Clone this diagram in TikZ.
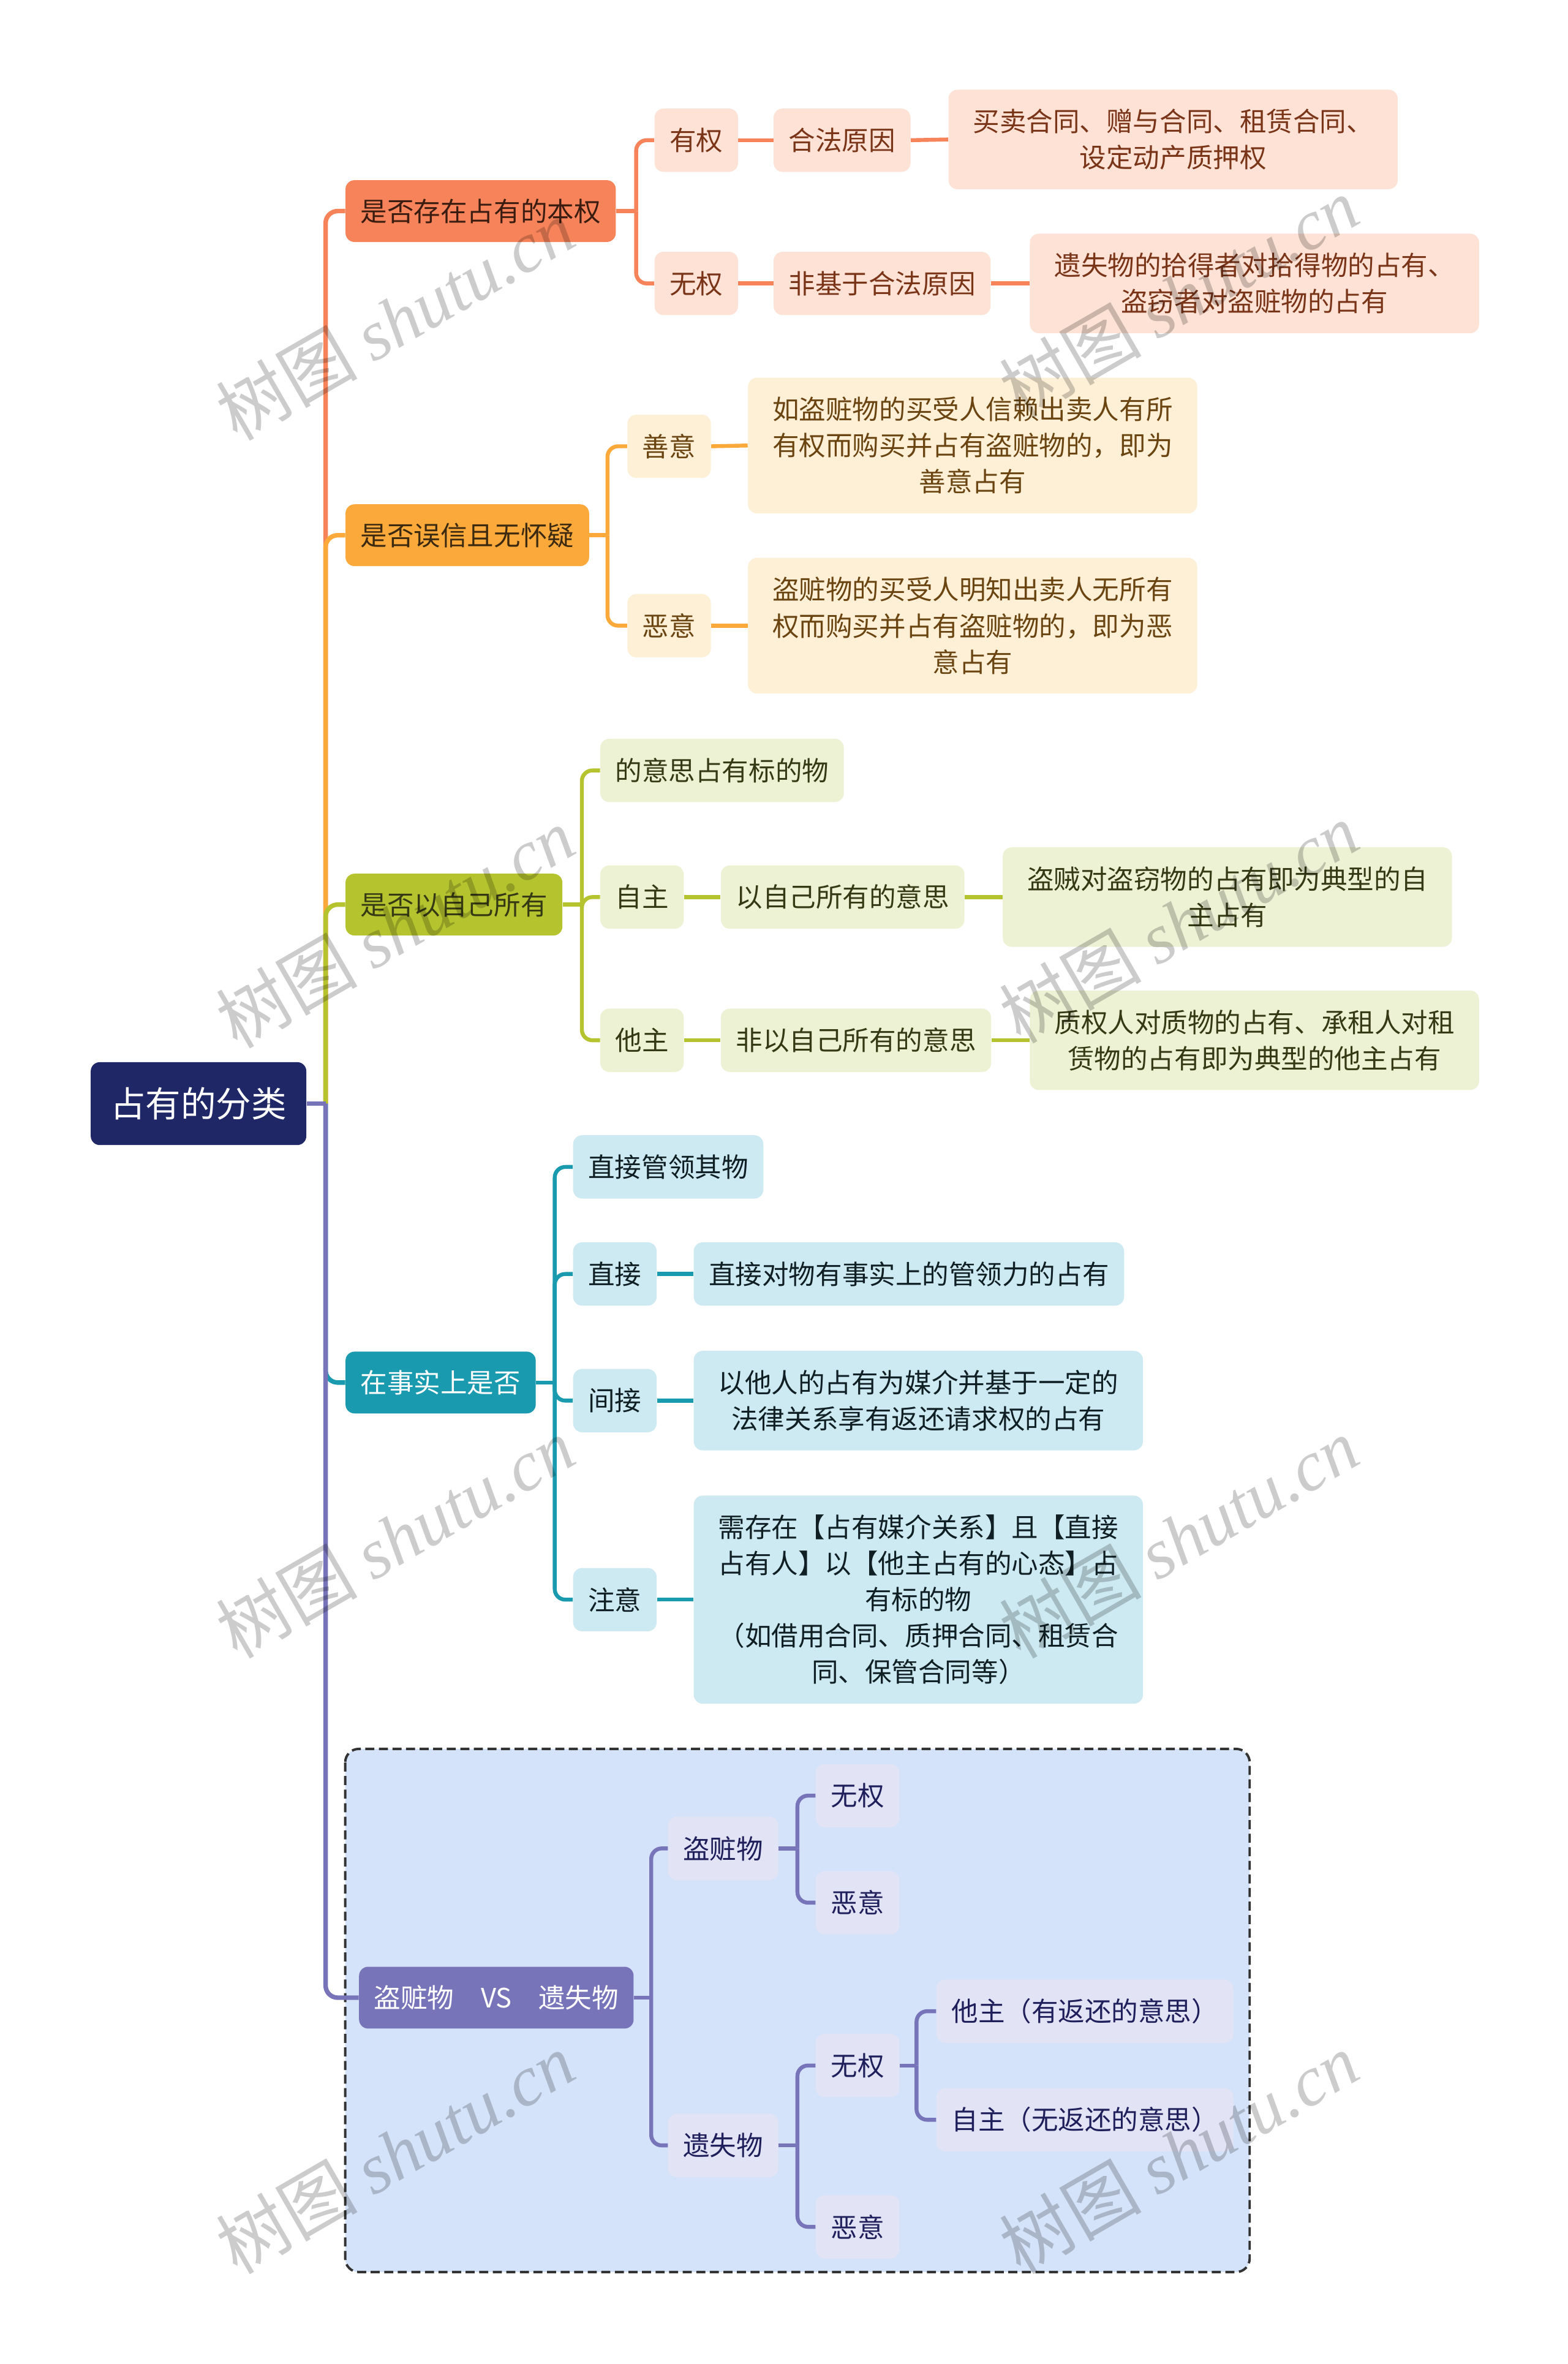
\documentclass[tikz,border=0pt]{standalone}
\usepackage{fontspec}
\setmainfont{Noto Sans CJK SC}
\newfontfamily\wmserif{Liberation Serif}
\definecolor{cOr}{HTML}{F6835A}
\definecolor{cYe}{HTML}{FBA93A}
\definecolor{cGr}{HTML}{B5C42E}
\definecolor{cTe}{HTML}{1A9AAF}
\definecolor{cPu}{HTML}{7774B9}
\definecolor{cRoot}{HTML}{1F2766}
\definecolor{lOr}{HTML}{FDE2D5}
\definecolor{lYe}{HTML}{FEF0D7}
\definecolor{lGr}{HTML}{EEF2D5}
\definecolor{lTe}{HTML}{CDE9F2}
\definecolor{lPu}{HTML}{E2E3F5}
\definecolor{grpbg}{HTML}{D5E3FA}
\definecolor{tOr}{HTML}{7A3418}
\definecolor{tOr2}{HTML}{3A1C10}
\definecolor{tYe}{HTML}{6B4511}
\definecolor{tYe2}{HTML}{3B2A10}
\definecolor{tGr}{HTML}{363A14}
\definecolor{tTe}{HTML}{0F1F24}
\definecolor{tPu}{HTML}{1F1F5C}
\begin{document}
\begin{tikzpicture}[x=1pt,y=-1pt,
  base/.style={rounded corners=6pt, inner xsep=10pt, inner ysep=0pt, minimum height=42pt, anchor=west, font=\fontsize{17.7}{24}\selectfont},
  lvtwo/.style={base, minimum height=41pt},
  leaftwo/.style={align=center, text width=278pt, minimum height=66pt},
  leafthree/.style={align=center, text width=278pt, minimum height=90pt},
  leaffive/.style={align=center, text width=278pt, minimum height=138pt},
  onode/.style={base, fill=lOr, text=tOr},
  ynode/.style={base, fill=lYe, text=tYe},
  gnode/.style={base, fill=lGr, text=tGr},
  tnode/.style={base, fill=lTe, text=tTe},
  pnode/.style={base, fill=lPu, text=tPu},
  trunk/.style={line width=3pt},
  trunkr/.style={line width=3pt, rounded corners=8pt},
  cthree/.style={line width=2.6pt},
  cthreer/.style={line width=2.6pt, rounded corners=7pt},
  wm/.style={rotate=30, text=black, text opacity=0.2, font=\fontsize{47}{47}\selectfont, inner sep=0pt}
]
\useasboundingbox (0,0) rectangle (1040,1568);
\fill[white] (0,0) rectangle (1040,1568);

% group box
\draw[fill=grpbg, draw=black!80, line width=1.6pt, dash pattern=on 6pt off 3pt, rounded corners=9pt] (229,1160) rectangle (829,1507);

% root
\node[base, fill=cRoot, text=white, inner xsep=13pt, minimum height=55pt, font=\fontsize{23.4}{28}\selectfont] (root) at (60,732) {占有的分类};

% level 2
\node[lvtwo, fill=cOr, text=tOr2] (b1) at (229,140) {是否存在占有的本权};
\node[lvtwo, fill=cYe, text=tYe2] (b2) at (229,355) {是否误信且无怀疑};
\node[lvtwo, fill=cGr, text=tGr] (b3) at (229,600) {是否以自己所有};
\node[lvtwo, fill=cTe, text=white] (b4) at (229,917) {在事实上是否};
\node[lvtwo, fill=cPu, text=white] (b5) at (238,1325) {盗赃物\quad VS\quad 遗失物};

% orange branch
\node[onode] (o1) at (434,93) {有权};
\node[onode] (o1a) at (513,93) {合法原因};
\node[onode, leaftwo] (o1b) at (629,92.5) {买卖合同、赠与合同、租赁合同、\\设定动产质押权};
\node[onode] (o2) at (434,188) {无权};
\node[onode] (o2a) at (513,188) {非基于合法原因};
\node[onode, leaftwo] (o2b) at (683,188) {遗失物的拾得者对拾得物的占有、\\盗窃者对盗赃物的占有};

% yellow branch
\node[ynode] (y1) at (416,296) {善意};
\node[ynode, leafthree] (y1a) at (496,295.5) {如盗赃物的买受人信赖出卖人有所\\有权而购买并占有盗赃物的，即为\\善意占有};
\node[ynode] (y2) at (416,415) {恶意};
\node[ynode, leafthree] (y2a) at (496,415) {盗赃物的买受人明知出卖人无所有\\权而购买并占有盗赃物的，即为恶\\意占有};

% green branch
\node[gnode] (g0) at (398,511) {的意思占有标的物};
\node[gnode] (g1) at (398,595) {自主};
\node[gnode] (g1a) at (478,595) {以自己所有的意思};
\node[gnode, leaftwo] (g1b) at (665,595) {盗贼对盗窃物的占有即为典型的自\\主占有};
\node[gnode] (g2) at (398,690) {他主};
\node[gnode] (g2a) at (478,690) {非以自己所有的意思};
\node[gnode, leaftwo] (g2b) at (683,690) {质权人对质物的占有、承租人对租\\赁物的占有即为典型的他主占有};

% teal branch
\node[tnode] (t0) at (380,774) {直接管领其物};
\node[tnode] (t1) at (380,845) {直接};
\node[tnode] (t1a) at (460,845) {直接对物有事实上的管领力的占有};
\node[tnode] (t2) at (380,929) {间接};
\node[tnode, leaftwo] (t2a) at (460,929) {以他人的占有为媒介并基于一定的\\法律关系享有返还请求权的占有};
\node[tnode] (t3) at (380,1061) {注意};
\node[tnode, leaffive] (t3a) at (460,1061) {需存在【占有媒介关系】且【直接\\占有人】以【他主占有的心态】占\\有标的物\\（如借用合同、质押合同、租赁合\\同、保管合同等）};

% purple branch
\node[pnode] (p1) at (443,1226) {盗赃物};
\node[pnode] (p1a) at (541,1191) {无权};
\node[pnode] (p1b) at (541,1262) {恶意};
\node[pnode] (p2) at (443,1423) {遗失物};
\node[pnode] (p2a) at (541,1370) {无权};
\node[pnode] (p2b) at (541,1477) {恶意};
\node[pnode] (p2c) at (621,1334) {他主（有返还的意思）};
\node[pnode] (p2d) at (621,1406) {自主（无返还的意思）};

% junction coordinates
\coordinate (j0) at (216,732);
\coordinate (jo) at (422,140);
\coordinate (jy) at (403,355);
\coordinate (jg) at (386,600);
\coordinate (jt) at (368,917);
\coordinate (jp) at (432,1325);
\coordinate (jp1) at (529,1226);
\coordinate (jp2) at (529,1423);
\coordinate (jp3) at (608,1370);

% trunk connectors
\draw[trunkr, cOr] (j0) |- (b1.west);
\draw[trunkr, cYe] (j0) |- (b2.west);
\draw[trunkr, cGr] (j0) |- (b3.west);
\draw[trunkr, cTe] (j0) |- (b4.west);
\draw[trunkr, cPu] (j0) |- (b5.west);
\draw[trunk, cPu] (root.east) -- (j0);

% orange connectors
\draw[cthree, cOr] (b1.east) -- (jo);
\draw[cthreer, cOr] (jo) |- (o1.west);
\draw[cthreer, cOr] (jo) |- (o2.west);
\draw[cthree, cOr] (o1.east) -- (o1a.west);
\draw[cthree, cOr] (o1a.east) -- (o1b.west);
\draw[cthree, cOr] (o2.east) -- (o2a.west);
\draw[cthree, cOr] (o2a.east) -- (o2b.west);

% yellow connectors
\draw[cthree, cYe] (b2.east) -- (jy);
\draw[cthreer, cYe] (jy) |- (y1.west);
\draw[cthreer, cYe] (jy) |- (y2.west);
\draw[cthree, cYe] (y1.east) -- (y1a.west);
\draw[cthree, cYe] (y2.east) -- (y2a.west);

% green connectors
\draw[cthree, cGr] (b3.east) -- (jg);
\draw[cthreer, cGr] (jg) |- (g0.west);
\draw[cthreer, cGr] (jg) |- (g1.west);
\draw[cthreer, cGr] (jg) |- (g2.west);
\draw[cthree, cGr] (g1.east) -- (g1a.west);
\draw[cthree, cGr] (g1a.east) -- (g1b.west);
\draw[cthree, cGr] (g2.east) -- (g2a.west);
\draw[cthree, cGr] (g2a.east) -- (g2b.west);

% teal connectors
\draw[cthree, cTe] (b4.east) -- (jt);
\draw[cthreer, cTe] (jt) |- (t0.west);
\draw[cthreer, cTe] (jt) |- (t1.west);
\draw[cthreer, cTe] (jt) |- (t2.west);
\draw[cthreer, cTe] (jt) |- (t3.west);
\draw[cthree, cTe] (t1.east) -- (t1a.west);
\draw[cthree, cTe] (t2.east) -- (t2a.west);
\draw[cthree, cTe] (t3.east) -- (t3a.west);

% purple connectors
\draw[cthree, cPu] (b5.east) -- (jp);
\draw[cthreer, cPu] (jp) |- (p1.west);
\draw[cthreer, cPu] (jp) |- (p2.west);
\draw[cthree, cPu] (p1.east) -- (jp1);
\draw[cthreer, cPu] (jp1) |- (p1a.west);
\draw[cthreer, cPu] (jp1) |- (p1b.west);
\draw[cthree, cPu] (p2.east) -- (jp2);
\draw[cthreer, cPu] (jp2) |- (p2a.west);
\draw[cthreer, cPu] (jp2) |- (p2b.west);
\draw[cthree, cPu] (p2a.east) -- (jp3);
\draw[cthreer, cPu] (jp3) |- (p2c.west);
\draw[cthreer, cPu] (jp3) |- (p2d.west);

% watermarks
\foreach \wx/\wy [count=\i] in {262/212, 782/197, 262/615, 782/612, 262/1020, 782/1020, 262/1428, 782/1428}{
  \node[wm] (wm\i) at (\wx,\wy) {树图 {\wmserif\itshape shutu.cn}};
}
\end{tikzpicture}
\end{document}
